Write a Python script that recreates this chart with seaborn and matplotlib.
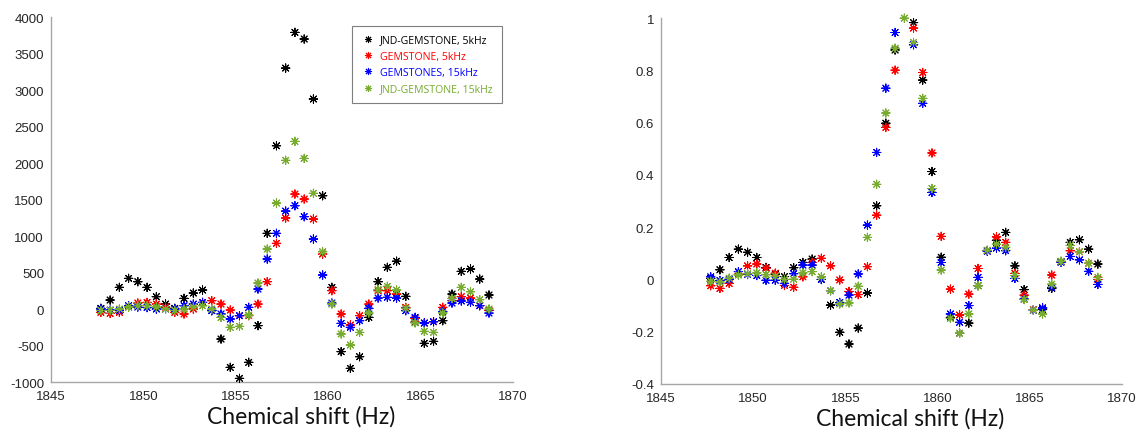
import numpy as np
import pandas as pd
import matplotlib
matplotlib.use("Agg")
import matplotlib.pyplot as plt
import seaborn as sns
from matplotlib.ticker import FuncFormatter

# ---------------- data ----------------
shift = [1847.7, 1848.2, 1848.7, 1849.2, 1849.7, 1850.2, 1850.7, 1851.2, 1851.7, 1852.2,
         1852.7, 1853.2, 1853.7, 1854.2, 1854.7, 1855.2, 1855.7, 1856.2, 1856.7, 1857.2,
         1857.7, 1858.2, 1858.7, 1859.2, 1859.7, 1860.2, 1860.7, 1861.2, 1861.7, 1862.2,
         1862.7, 1863.2, 1863.7, 1864.2, 1864.7, 1865.2, 1865.7, 1866.2, 1866.7, 1867.2,
         1867.7, 1868.2, 1868.7]

series_names = ["JND-GEMSTONE, 5kHz", "GEMSTONE, 5kHz", "GEMSTONES, 15kHz", "JND-GEMSTONE, 15kHz"]
series_colors = ["#000000", "#FF0000", "#0000FF", "#77AC30"]

# left panel (raw intensity)
raw_jnd_5k = [10, 123, 297, 420, 374, 297, 169, 68, 10, 146,
              219, 260, -20, -411, -799, -950, -730, -228, 1037, 2237,
              3301, 3790, 3699, 2877, 1552, 297, -584, -813, -653, -114,
              374, 571, 655, 174, -180, -470, -443, -160, 205, 516,
              548, 411, 192]
raw_gem_5k = [-45, -60, -45, 27, 82, 91, 68, 27, -45, -68,
              0, 91, 114, 68, -14, -91, -91, 68, 374, 900,
              1247, 1575, 1507, 1233, 753, 251, -68, -219, -91, 68,
              251, 251, 205, 23, -130, -192, -174, 23, 114, 169,
              150, 46, -20]
raw_gem_15k = [0, -14, -20, 45, 27, 20, 0, 0, 0, 45,
               68, 91, -23, -68, -137, -91, 23, 274, 685, 1037,
               1342, 1415, 1265, 959, 466, 82, -196, -251, -160, 10,
               150, 160, 150, -23, -114, -192, -174, -37, 82, 110,
               91, 46, -55]
raw_jnd_15k = [-20, -20, 0, 27, 45, 45, 27, 0, -20, 0,
               27, 45, 0, -114, -251, -237, -82, 356, 822, 1452,
               2037, 2297, 2064, 1585, 785, 68, -342, -493, -320, -55,
               265, 311, 260, 10, -190, -306, -320, -55, 146, 297,
               237, 128, 0]

# right panel (normalised); nan = point not visible (outside axis range)
nan = np.nan
norm_jnd_5k = [0.004, 0.037, 0.084, 0.116, 0.104, 0.084, 0.046, 0.02, 0.011, 0.045,
               0.065, 0.078, 0.0, -0.098, -0.202, -0.247, -0.186, -0.052, 0.282, 0.598,
               0.878, nan, 0.983, 0.763, 0.413, 0.085, -0.145, -0.206, -0.167, -0.024,
               0.11, 0.15, 0.18, 0.052, -0.039, -0.116, -0.115, -0.034, 0.068, 0.142,
               0.152, 0.116, 0.059]
norm_gem_5k = [-0.024, -0.034, -0.015, 0.02, 0.052, 0.059, 0.043, 0.024, -0.023, -0.03,
               0.01, 0.065, 0.081, 0.052, -0.002, -0.046, -0.058, 0.049, 0.246, 0.582,
               0.801, nan, 0.962, 0.792, 0.484, 0.165, -0.037, -0.136, -0.056, 0.042,
               0.11, 0.163, 0.142, 0.023, -0.06, -0.116, -0.109, 0.017, 0.068, 0.11,
               0.106, 0.062, 0.0]
norm_gem_15k = [0.01, -0.004, 0.0, 0.03, 0.019, 0.015, -0.003, -0.003, -0.015, 0.022,
                0.055, 0.055, 0.0, -0.043, -0.088, -0.06, 0.021, 0.208, 0.486, 0.732,
                0.945, nan, 0.898, 0.674, 0.333, 0.065, -0.132, -0.164, -0.1, 0.008,
                0.108, 0.12, 0.11, 0.004, -0.075, -0.118, -0.109, -0.03, 0.066, 0.088,
                0.075, 0.031, -0.019]
norm_jnd_15k = [-0.007, -0.01, 0.005, 0.017, 0.022, 0.025, 0.018, 0.012, 0.0, 0.001,
                0.025, 0.03, 0.01, -0.043, -0.094, -0.09, -0.026, 0.161, 0.364, 0.637,
                0.885, 1.0, 0.907, 0.693, 0.348, 0.036, -0.149, -0.206, -0.132, -0.024,
                0.112, 0.135, 0.123, 0.015, -0.077, -0.117, -0.132, -0.018, 0.07, 0.13,
                0.106, 0.062, 0.008]

left_yticks = [-1000, -500, 0, 500, 1000, 1500, 2000, 2500, 3000, 3500, 4000]
right_yticks = [-0.4, -0.2, 0, 0.2, 0.4, 0.6, 0.8, 1]
xticks = [1845, 1850, 1855, 1860, 1865, 1870]
xlabel_text = "Chemical shift (Hz)"


def long_frame(cols):
    frames = []
    for name, vals in zip(series_names, cols):
        frames.append(pd.DataFrame({"shift": shift, "value": vals, "series": name}))
    return pd.concat(frames, ignore_index=True)


df_left = long_frame([raw_jnd_5k, raw_gem_5k, raw_gem_15k, raw_jnd_15k])
df_right = long_frame([norm_jnd_5k, norm_gem_5k, norm_gem_15k, norm_jnd_15k])

# ---------------- figure ----------------
sns.set_theme(style="white")
plt.rcParams["font.family"] = ["Liberation Sans", "DejaVu Sans"]

fig = plt.figure(figsize=(11.38, 4.35), dpi=100)
ax1 = fig.add_axes([0.0448, 0.1195, 0.406, 0.839])
ax2 = fig.add_axes([0.5808, 0.115, 0.405, 0.841])

palette = dict(zip(series_names, series_colors))
marker = (8, 2, 0)
axis_grey = "#a6a6a6"


def style_axis(ax, ylim, yticks):
    ax.set_xlim(1845, 1870)
    ax.set_ylim(*ylim)
    ax.set_xticks(xticks)
    ax.set_yticks(yticks)
    ax.yaxis.set_major_formatter(FuncFormatter(lambda v, p: f"{v:g}"))
    for s in ["top", "right"]:
        ax.spines[s].set_visible(False)
    for s in ["left", "bottom"]:
        ax.spines[s].set_color(axis_grey)
        ax.spines[s].set_linewidth(1.0)
    ax.tick_params(axis="both", direction="in", length=3.5, width=0.8, color=axis_grey,
                   labelsize=9.5, labelcolor="#262626", pad=6)
    ax.tick_params(axis="y", pad=5)
    ax.set_xlabel(xlabel_text, fontsize=16.5, family=["Lato", "DejaVu Sans"], color="#111111")
    ax.xaxis.set_label_coords(0.541, -0.062)
    ax.set_ylabel("")


for ax, df in [(ax1, df_left), (ax2, df_right)]:
    sns.scatterplot(data=df, x="shift", y="value", hue="series", palette=palette,
                    hue_order=series_names, marker=marker, s=36, linewidth=0.75,
                    ax=ax, legend=(ax is ax1), clip_on=False, zorder=3)

style_axis(ax1, (-1000, 4000), left_yticks)
style_axis(ax2, (-0.4, 1), right_yticks)

leg = ax1.legend(loc="upper left", bbox_to_anchor=(0.651, 0.975), frameon=True,
                 fancybox=False, edgecolor="#7f7f7f", framealpha=1,
                 prop={"family": ["Open Sans", "DejaVu Sans"], "size": 7.6},
                 labelspacing=0.5, handletextpad=0.5, borderpad=0.8,
                 handlelength=1.4, borderaxespad=0, title=None, markerscale=0.85)
leg.get_frame().set_linewidth(0.8)
for txt, col in zip(leg.get_texts(), series_colors):
    txt.set_color(col)

fig.savefig("out.png", dpi=100)
